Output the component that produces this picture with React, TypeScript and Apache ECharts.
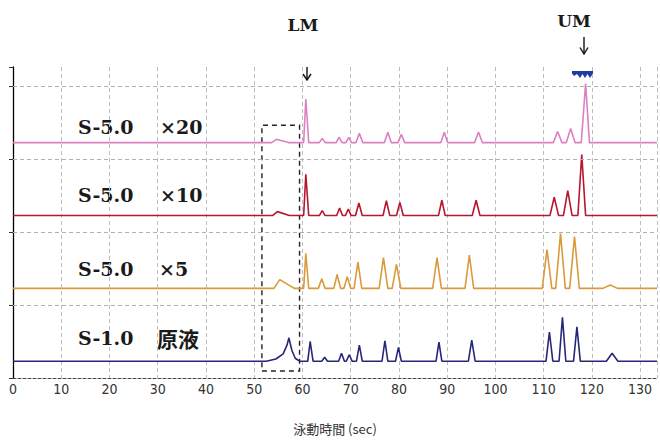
import React, { useEffect, useRef } from "react";
import * as echarts from "echarts";

// ---- data ----
const X_MIN = 0;
const X_MAX = 133.5;
const X_INTERVAL = 10;
const Y_MAX = 4.258;
const gridLevels = [1, 2, 3, 4];

const sampleLabels = ["S-5.0", "S-5.0", "S-5.0", "S-1.0"];
const factorLabels = ["×20", "×10", "×5", "原液"];
const traceColors = ["#dd80c2", "#b8162e", "#da9a3c", "#27277a"];
const baselines = [3.223, 2.224, 1.227, 0.23];

// peaks: [time (sec), height above baseline, left half-width, right half-width]
const pinkPeaks = [
  [54.6, 0.045, 1.0, 2.5],
  [60.7, 0.597, 0.45, 0.6],
  [64.1, 0.058, 0.6, 0.6],
  [67.6, 0.076, 0.6, 0.6],
  [69.6, 0.072, 0.6, 0.6],
  [71.8, 0.126, 0.7, 0.7],
  [77.7, 0.14, 0.7, 0.7],
  [80.5, 0.113, 0.7, 0.7],
  [89.4, 0.14, 0.7, 0.7],
  [96.5, 0.144, 0.8, 0.8],
  [112.9, 0.153, 0.9, 0.9],
  [115.6, 0.194, 0.9, 0.9],
  [118.7, 0.81, 0.9, 0.8],
];
const redPeaks = [
  [54.8, 0.054, 1.0, 2.5],
  [60.7, 0.565, 0.45, 0.6],
  [64.1, 0.068, 0.6, 0.6],
  [67.7, 0.104, 0.6, 0.6],
  [69.5, 0.09, 0.6, 0.6],
  [71.7, 0.172, 0.7, 0.7],
  [77.4, 0.203, 0.7, 0.7],
  [80.2, 0.18, 0.7, 0.7],
  [88.9, 0.21, 0.7, 0.7],
  [96.0, 0.21, 0.8, 0.8],
  [112.2, 0.25, 0.9, 0.9],
  [115.0, 0.34, 0.9, 0.9],
  [117.9, 0.837, 0.8, 0.8],
];
const orangePeaks = [
  [55.3, 0.12, 1.2, 3.0],
  [60.7, 0.48, 0.45, 0.6],
  [64.0, 0.133, 0.7, 0.7],
  [67.2, 0.19, 0.7, 0.7],
  [69.3, 0.16, 0.7, 0.7],
  [71.5, 0.36, 0.8, 0.8],
  [76.8, 0.42, 0.9, 0.9],
  [79.5, 0.33, 0.9, 0.9],
  [87.9, 0.42, 0.9, 0.9],
  [94.6, 0.455, 0.9, 0.9],
  [110.7, 0.53, 1.0, 1.0],
  [113.5, 0.75, 1.0, 1.0],
  [116.4, 0.71, 1.0, 1.0],
  [123.8, 0.045, 1.5, 1.5],
];
const bluePeaks = [
  [61.6, 0.27, 0.5, 0.6],
  [64.6, 0.054, 0.6, 0.6],
  [68.1, 0.11, 0.6, 0.6],
  [69.7, 0.088, 0.6, 0.6],
  [71.8, 0.22, 0.6, 0.6],
  [77.1, 0.28, 0.6, 0.6],
  [79.9, 0.19, 0.6, 0.6],
  [88.3, 0.26, 0.6, 0.6],
  [95.1, 0.29, 0.7, 0.7],
  [111.2, 0.4, 0.7, 0.7],
  [113.9, 0.6, 0.7, 0.7],
  [116.9, 0.47, 0.7, 0.7],
  [124.2, 0.11, 1.2, 1.2],
];
// broad hump inside the dashed box on the 原液 trace: [time, height above baseline]
const blueHump = [
  [52.5, 0],
  [54.5, 0.03],
  [56.0, 0.1],
  [56.8, 0.22],
  [57.2, 0.32],
  [57.8, 0.15],
  [58.5, 0.04],
  [59.4, 0],
];
// dashed box: [xFrom, yFrom, xTo, yTo]
const dashedBox = [51.6, 0.095, 59.4, 3.46];

const tracePeaks = [pinkPeaks, redPeaks, orangePeaks, bluePeaks];
const traceExtra = [[], [], [], blueHump];

function buildTrace(peaks: number[][], extra: number[][], base: number) {
  const pts: number[][] = [[X_MIN, base]];
  peaks.forEach(([t, h, wl, wr]) => {
    pts.push([t - wl, base], [t, base + h], [t + wr, base]);
  });
  extra.forEach(([t, h]) => pts.push([t, base + h]));
  pts.push([X_MAX, base]);
  pts.sort((a, b) => a[0] - b[0]);
  return pts;
}

const labelYs = [127, 195, 269, 338];
const factorXs = [160, 160, 159, 157];

export default function App() {
  const ref = useRef<HTMLDivElement>(null);
  useEffect(() => {
    const chart = echarts.init(ref.current!, null, { renderer: "svg" });

    const series: any[] = tracePeaks.map((pk, i) => ({
      type: "line",
      data: buildTrace(pk, traceExtra[i], baselines[i]),
      showSymbol: false,
      symbol: "none",
      lineStyle: { color: traceColors[i], width: 1.6 },
      z: 3,
    }));
    series.push({
      type: "line",
      data: [],
      showSymbol: false,
      z: 1,
      markLine: {
        silent: true,
        symbol: ["none", "none"],
        label: { show: false },
        lineStyle: { color: "#b0b0b0", type: [4, 3], width: 1 },
        data: gridLevels.map((v) => ({ yAxis: v })),
      },
      markArea: {
        silent: true,
        itemStyle: {
          color: "rgba(0,0,0,0)",
          borderColor: "#222",
          borderWidth: 1.4,
          borderType: [5, 4],
        },
        data: [
          [
            { coord: [dashedBox[0], dashedBox[1]] },
            { coord: [dashedBox[2], dashedBox[3]] },
          ],
        ],
      },
    });

    const serif = '"DejaVu Serif", "Liberation Serif", serif';
    const graphic: any[] = [];
    sampleLabels.forEach((s, i) => {
      graphic.push({
        type: "text",
        x: 78,
        y: labelYs[i],
        style: {
          text: s,
          fill: "#1a1a1a",
          fontSize: 19,
          fontWeight: "bold",
          fontFamily: serif,
          verticalAlign: "middle",
        },
      });
      const isCJK = /[^\x00-\xff×]/.test(factorLabels[i]);
      graphic.push({
        type: "text",
        x: factorXs[i],
        y: labelYs[i],
        style: {
          text: factorLabels[i],
          fill: "#1a1a1a",
          fontSize: isCJK ? 21 : 19,
          fontWeight: "bold",
          fontFamily: isCJK ? '"Noto Sans CJK JP", sans-serif' : serif,
          verticalAlign: "middle",
        },
      });
    });
    graphic.push(
      {
        type: "text",
        x: 303,
        y: 25,
        style: { text: "LM", fill: "#1a1a1a", fontSize: 17, fontWeight: "bold", fontFamily: serif, align: "center", verticalAlign: "middle" },
      },
      {
        type: "text",
        x: 574,
        y: 21,
        style: { text: "UM", fill: "#1a1a1a", fontSize: 17, fontWeight: "bold", fontFamily: serif, align: "center", verticalAlign: "middle" },
      },
      { type: "line", shape: { x1: 307, y1: 67, x2: 307, y2: 80 }, style: { stroke: "#111", lineWidth: 1.4 } },
      { type: "polyline", shape: { points: [[303, 74], [307, 80], [311, 74]] }, style: { stroke: "#111", lineWidth: 1.4, fill: null } },
      { type: "line", shape: { x1: 584, y1: 37, x2: 584, y2: 54 }, style: { stroke: "#111", lineWidth: 1.4 } },
      { type: "polyline", shape: { points: [[580, 47.5], [584, 54], [588, 47.5]] }, style: { stroke: "#111", lineWidth: 1.4, fill: null } },
      {
        type: "polygon",
        shape: {
          points: [
            [572, 71], [593, 71], [593, 73.5], [590, 78], [587.5, 74], [585, 78], [582.5, 74], [580, 78], [577, 74],
            [574, 76], [572, 73.5],
          ],
        },
        style: { fill: "#1f3c9e" },
      }
    );

    chart.setOption({
      animation: false,
      backgroundColor: "#fff",
      grid: { left: 13, right: 0, top: 67, bottom: 59 },
      xAxis: {
        type: "value",
        min: X_MIN,
        max: X_MAX,
        interval: X_INTERVAL,
        name: "泳動時間 (sec)",
        nameLocation: "middle",
        nameGap: 44,
        nameTextStyle: { color: "#333", fontSize: 13, fontFamily: '"Noto Sans CJK JP", sans-serif', verticalAlign: "top" },
        axisLine: { show: true, lineStyle: { color: "#444", type: [3, 2], width: 1 } },
        axisTick: { show: false },
        axisLabel: {
          color: "#333",
          fontSize: 14,
          fontFamily: '"Liberation Sans Narrow", "DejaVu Sans Condensed", sans-serif',
          margin: 4,
          formatter: (v: number) => (v % 10 === 0 ? String(v) : ""),
        },
        splitLine: { show: true, lineStyle: { color: "#bdbdbd", type: [4, 3], width: 1 } },
      },
      yAxis: {
        type: "value",
        min: 0,
        max: Y_MAX,
        interval: 1,
        axisLine: { show: true, lineStyle: { color: "#000", width: 1.3 } },
        axisTick: { show: true, length: 4, lineStyle: { color: "#333" } },
        axisLabel: { show: false },
        splitLine: { show: false },
      },
      series,
      graphic,
    });
    return () => chart.dispose();
  }, []);
  return (
    <div
      ref={ref}
      style={{ position: "fixed", left: 0, top: 0, width: 660, height: 440, background: "#fff" }}
    />
  );
}
